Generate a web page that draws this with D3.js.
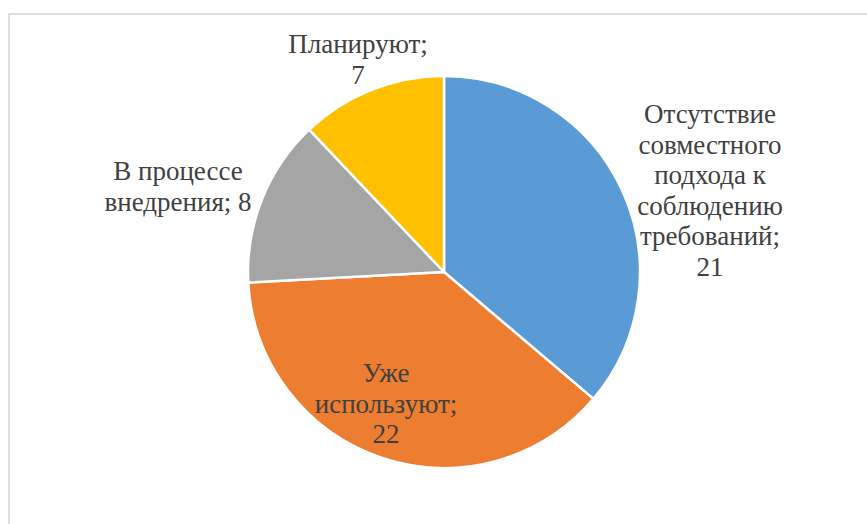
<!DOCTYPE html>
<html>
<head>
<meta charset="utf-8">
<script src="https://cdn.jsdelivr.net/npm/d3@7"></script>
<style>
  html, body { margin: 0; padding: 0; background: #ffffff; }
  svg { display: block; }
</style>
</head>
<body>
<svg id="chart" width="867" height="524"></svg>
<script>
// Survey answers: share of respondents by status
const categories = [
  "Отсутствие совместного подхода к соблюдению требований",
  "Уже используют",
  "В процессе внедрения",
  "Планируют"
];
const values = [21, 22, 8, 7];
const colors = ["#5b9bd5", "#ed7d31", "#a5a5a5", "#ffc000"];

// Label text, already broken into lines the way they are typeset
const labelLines = [
  ["Отсутствие", "совместного", "подхода к", "соблюдению", "требований;", "21"],
  ["Уже", "используют;", "22"],
  ["В процессе", "внедрения; 8"],
  ["Планируют;", "7"]
];

// Label block placement: centre x and first baseline y
const labelPos = [
  { x: 710, y: 123 },
  { x: 386, y: 382 },
  { x: 178, y: 180 },
  { x: 358, y: 53 }
];

const W = 867, H = 524;
const cx = 444, cy = 272, radius = 196;
const lineHeight = 30.5;

const svg = d3.select("#chart");

// Chart area frame (only the top and left edges fall inside the view)
svg.append("rect")
  .attr("x", 9).attr("y", 14)
  .attr("width", W + 20).attr("height", H + 20)
  .attr("fill", "none")
  .attr("stroke", "#dedede")
  .attr("stroke-width", 2);

const data = categories.map((c, i) => ({ name: c, value: values[i], color: colors[i] }));

const pie = d3.pie().value(d => d.value).sort(null);
const arc = d3.arc().innerRadius(0).outerRadius(radius);

const g = svg.append("g").attr("transform", `translate(${cx},${cy})`);

g.selectAll("path.slice")
  .data(pie(data))
  .join("path")
  .attr("class", "slice")
  .attr("d", arc)
  .attr("fill", d => d.data.color)
  .attr("stroke", "#ffffff")
  .attr("stroke-width", 2.5)
  .attr("stroke-linejoin", "round");

const labels = svg.selectAll("text.lbl")
  .data(labelLines)
  .join("text")
  .attr("class", "lbl")
  .attr("text-anchor", "middle")
  .attr("font-family", "Times New Roman")
  .attr("font-size", 27)
  .attr("fill", "#404040");

labels.each(function(lines, i) {
  const t = d3.select(this);
  lines.forEach((ln, j) => {
    t.append("tspan")
      .attr("x", labelPos[i].x)
      .attr("y", labelPos[i].y + j * lineHeight)
      .text(ln);
  });
});
</script>
</body>
</html>
